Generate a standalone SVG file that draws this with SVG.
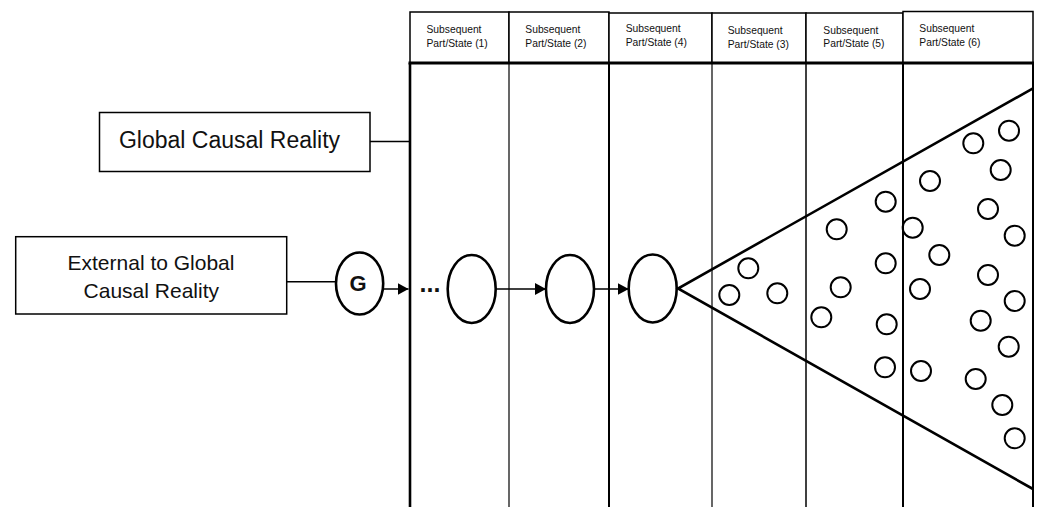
<svg xmlns="http://www.w3.org/2000/svg" width="1037" height="507" viewBox="0 0 1037 507">
<defs>
<style>
.bx{fill:#fff;stroke:#000;stroke-width:1.5}
.hd{font-family:"Liberation Sans",Arial,sans-serif;font-size:10.3px;fill:#111}
.lbl{font-family:"Liberation Sans",Arial,sans-serif;fill:#111}
.ln{stroke:#000;fill:none}
.el{fill:#fff;stroke:#000;stroke-width:2.6}
.dot{fill:none;stroke:#000;stroke-width:2}
.cn{stroke:#000;stroke-width:1.5;fill:none}
</style>
<marker id="ah" viewBox="0 0 11 12" refX="11" refY="6" markerWidth="11" markerHeight="12" markerUnits="userSpaceOnUse" orient="auto">
<path d="M0,0 L11,6 L0,12 Z" fill="#000"/>
</marker>
</defs>
<rect width="1037" height="507" fill="#fff"/>
<g id="header">
<rect class="bx" x="410" y="12" width="99" height="51"/>
<rect class="bx" x="509" y="12" width="100" height="51"/>
<rect class="bx" x="609" y="13" width="103" height="50"/>
<rect class="bx" x="712" y="13" width="94" height="50"/>
<rect class="bx" x="806" y="13" width="97" height="50"/>
<rect class="bx" x="903" y="11.5" width="130" height="51.5"/>
<text class="hd" x="426.5" y="32.5">Subsequent</text>
<text class="hd" x="426.5" y="46.5">Part/State (1)</text>
<text class="hd" x="525.3" y="32.5">Subsequent</text>
<text class="hd" x="525.3" y="46.5">Part/State (2)</text>
<text class="hd" x="625.7" y="32">Subsequent</text>
<text class="hd" x="625.7" y="46">Part/State (4)</text>
<text class="hd" x="727.7" y="33.5">Subsequent</text>
<text class="hd" x="727.7" y="47.5">Part/State (3)</text>
<text class="hd" x="823.3" y="33.5">Subsequent</text>
<text class="hd" x="823.3" y="47">Part/State (5)</text>
<text class="hd" x="919.3" y="31.5">Subsequent</text>
<text class="hd" x="919.3" y="45.5">Part/State (6)</text>
</g>
<g id="columns">
<line class="ln" x1="408.5" y1="63" x2="1034" y2="63" stroke-width="3"/>
<line class="ln" x1="410" y1="63" x2="410" y2="507" stroke-width="2.6"/>
<line class="ln" x1="509" y1="63" x2="509" y2="507" stroke-width="1.2"/>
<line class="ln" x1="609" y1="63" x2="609" y2="507" stroke-width="2"/>
<line class="ln" x1="712" y1="63" x2="712" y2="507" stroke-width="1.2"/>
<line class="ln" x1="806" y1="63" x2="806" y2="507" stroke-width="1.5"/>
<line class="ln" x1="903" y1="63" x2="903" y2="507" stroke-width="2"/>
<line class="ln" x1="1033" y1="63" x2="1033" y2="507" stroke-width="2"/>
</g>
<g id="global-causal-reality">
<rect class="bx" x="99.5" y="112.5" width="270.5" height="59"/>
<text class="lbl" x="229.5" y="148.3" font-size="23" text-anchor="middle">Global Causal Reality</text>
</g>
<g id="external">
<rect class="bx" x="15.7" y="236.7" width="271" height="77.3"/>
<text class="lbl" x="151" y="270" font-size="21" text-anchor="middle">External to Global</text>
<text class="lbl" x="151.3" y="298.3" font-size="21" text-anchor="middle">Causal Reality</text>
</g>
<g id="node-G">
<ellipse class="el" cx="359.6" cy="283.5" rx="23.6" ry="31"/>
<text class="lbl" x="358" y="291" font-size="22" font-weight="bold" text-anchor="middle">G</text>
</g>
<g id="ellipsis">
<text class="lbl" x="419.5" y="291.5" font-size="25" font-weight="bold">...</text>
</g>
<g id="state-1">
<ellipse class="el" cx="471.7" cy="289" rx="24" ry="34"/>
</g>
<g id="state-2">
<ellipse class="el" cx="570" cy="289" rx="24" ry="34"/>
</g>
<g id="state-3">
<ellipse class="el" cx="652.7" cy="288.5" rx="24" ry="34"/>
</g>
<g id="branching">
<path d="M1033,88.3 L678,288.5 L1033,489" fill="none" stroke="#000" stroke-width="2.6" stroke-linejoin="miter"/>
<circle class="dot" cx="748.3" cy="268.3" r="10"/>
<circle class="dot" cx="729.3" cy="295" r="10"/>
<circle class="dot" cx="777.3" cy="293.3" r="10"/>
<circle class="dot" cx="836.7" cy="229.3" r="10"/>
<circle class="dot" cx="840.7" cy="287.3" r="10"/>
<circle class="dot" cx="821.3" cy="317.3" r="10"/>
<circle class="dot" cx="885.7" cy="201.7" r="10"/>
<circle class="dot" cx="885.7" cy="263.3" r="10"/>
<circle class="dot" cx="886.7" cy="324.3" r="10"/>
<circle class="dot" cx="885" cy="367.3" r="10"/>
<circle class="dot" cx="912.7" cy="227.7" r="10"/>
<circle class="dot" cx="930" cy="181" r="10"/>
<circle class="dot" cx="939.3" cy="255" r="10"/>
<circle class="dot" cx="920" cy="289" r="10"/>
<circle class="dot" cx="921" cy="371" r="10"/>
<circle class="dot" cx="973.3" cy="143.3" r="10"/>
<circle class="dot" cx="1009" cy="130.7" r="10"/>
<circle class="dot" cx="1000.7" cy="170" r="10"/>
<circle class="dot" cx="988" cy="209" r="10"/>
<circle class="dot" cx="1014.7" cy="235.7" r="10"/>
<circle class="dot" cx="988" cy="275" r="10"/>
<circle class="dot" cx="1014.7" cy="301" r="10"/>
<circle class="dot" cx="980.7" cy="320.7" r="10"/>
<circle class="dot" cx="1008.7" cy="346.7" r="10"/>
<circle class="dot" cx="975.7" cy="379" r="10"/>
<circle class="dot" cx="1002.3" cy="405" r="10"/>
<circle class="dot" cx="1014.7" cy="438.3" r="10"/>
</g>
<g id="connectors">
<line class="cn" x1="370" y1="141.5" x2="410" y2="141.5"/>
<line class="cn" x1="286.7" y1="281.7" x2="336" y2="281.7"/>
<line class="cn" x1="382.5" y1="289" x2="408.5" y2="289" marker-end="url(#ah)"/>
<line class="cn" x1="495.7" y1="289" x2="546" y2="289" marker-end="url(#ah)"/>
<line class="cn" x1="594" y1="289" x2="628.7" y2="289" marker-end="url(#ah)"/>
</g>
</svg>
